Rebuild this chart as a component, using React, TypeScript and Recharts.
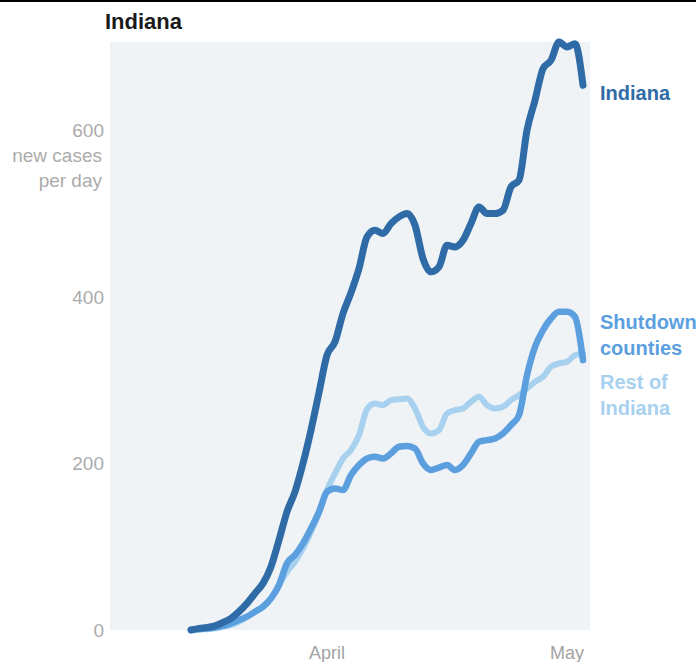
import { LineChart, Line, XAxis, YAxis, CartesianGrid } from "recharts";

// day offsets from April 1
const DAYS = [
  -17, -16, -15, -14, -13, -12, -11, -10, -9, -8,
  -7, -6, -5, -4, -3, -2, -1, 0, 1, 2,
  3, 4, 5, 6, 7, 8, 9, 10, 11, 12,
  13, 14, 15, 16, 17, 18, 19, 20, 21, 22,
  23, 24, 25, 26, 27, 28, 29, 30, 31, 32,
];

const INDIANA = [
  0, 2, 3, 5, 9, 14, 22, 32, 44, 56,
  76, 108, 142, 166, 200, 240, 285, 330, 346, 380,
  405, 434, 472, 480, 476, 488, 496, 500, 486, 446,
  430, 436, 462, 460, 468, 488, 508, 500, 500, 504,
  532, 540, 600, 636, 674, 684, 706, 700, 704, 654,
];

const SHUTDOWN = [
  0, 1, 2, 3, 5, 8, 12, 16, 22, 28,
  38, 54, 80, 90, 104, 122, 142, 166, 170, 168,
  186, 198, 206, 208, 206, 212, 220, 221, 218, 200,
  192, 195, 198, 192, 198, 212, 226, 228, 230, 236,
  246, 258, 306, 340, 360, 374, 382, 382, 376, 324,
];

const REST = [
  0, 1, 1, 2, 4, 6, 10, 16, 22, 28,
  38, 54, 70, 82, 98, 118, 140, 168, 188, 206,
  216, 234, 265, 272, 270, 276, 277, 278, 266, 244,
  236, 240, 260, 264, 266, 274, 280, 270, 266, 268,
  276, 282, 290, 298, 304, 316, 320, 322, 330, 332,
];

const Y_TICKS = [0, 200, 400, 600];
const X_TICKS = [0, 30];
const X_TICK_LABELS = ["April", "May"];

const DARK = "#2f6ba6";
const MID = "#5c9fdf";
const LIGHT = "#a8d1ef";
const FONT = '"Liberation Sans", Arial, sans-serif';

const data = DAYS.map((d, i) => ({
  day: d,
  indiana: INDIANA[i],
  shutdown: SHUTDOWN[i],
  rest: REST[i],
}));

function YTick({ x, y, payload }: any) {
  const extra = payload.value === 600;
  return (
    <text
      x={x}
      y={y}
      textAnchor="end"
      fill="#ababab"
      fontSize={19}
      fontFamily={FONT}
    >
      <tspan x={x} dy="0.35em">
        {payload.value}
      </tspan>
      {extra && (
        <tspan x={x - 2} dy={25}>
          new cases
        </tspan>
      )}
      {extra && (
        <tspan x={x - 2} dy={25}>
          per day
        </tspan>
      )}
    </text>
  );
}

const label = (color: string): React.CSSProperties => ({
  position: "absolute",
  left: 600,
  color,
  fontFamily: FONT,
  fontWeight: "bold",
  fontSize: 20,
  lineHeight: "26px",
  whiteSpace: "nowrap",
});

export default function App() {
  return (
    <div
      style={{
        position: "absolute",
        left: 0,
        top: 0,
        width: 696,
        height: 662,
        background: "#fff",
        overflow: "hidden",
      }}
    >
      <div
        style={{
          position: "absolute",
          left: 0,
          top: 0,
          width: 696,
          height: 2,
          background: "#000",
        }}
      />
      <div
        style={{
          position: "absolute",
          left: 105,
          top: 9,
          fontFamily: FONT,
          fontWeight: "bold",
          fontSize: 22,
          lineHeight: "26px",
          color: "#1a1a1a",
        }}
      >
        Indiana
      </div>
      <LineChart
        width={696}
        height={662}
        data={data}
        margin={{ top: 42, right: 106, left: 50, bottom: 2 }}
      >
        <CartesianGrid
          horizontal={false}
          vertical={false}
          fill="#eff3f6"
          stroke="none"
        />
        <XAxis
          dataKey="day"
          type="number"
          domain={[-27.125, 32.875]}
          ticks={X_TICKS}
          tickFormatter={(v) => X_TICK_LABELS[X_TICKS.indexOf(v)]}
          axisLine={false}
          tickLine={false}
          tickSize={0}
          tickMargin={16}
          height={30}
          tick={{ fill: "#a3a3a3", fontSize: 18, fontFamily: FONT }}
        />
        <YAxis
          width={60}
          domain={[0, 706]}
          ticks={Y_TICKS}
          axisLine={false}
          tickLine={false}
          tickSize={0}
          tickMargin={6}
          tick={<YTick />}
        />
        <Line
          type="monotone"
          dataKey="rest"
          stroke={LIGHT}
          strokeWidth={6}
          dot={false}
          strokeLinecap="round"
          strokeLinejoin="round"
          isAnimationActive={false}
        />
        <Line
          type="monotone"
          dataKey="shutdown"
          stroke={MID}
          strokeWidth={6.5}
          dot={false}
          strokeLinecap="round"
          strokeLinejoin="round"
          isAnimationActive={false}
        />
        <Line
          type="monotone"
          dataKey="indiana"
          stroke={DARK}
          strokeWidth={7}
          dot={false}
          strokeLinecap="round"
          strokeLinejoin="round"
          isAnimationActive={false}
        />
      </LineChart>
      <div style={{ ...label(DARK), top: 80 }}>Indiana</div>
      <div style={{ ...label(MID), top: 309 }}>
        Shutdown
        <br />
        counties
      </div>
      <div style={{ ...label(LIGHT), top: 369 }}>
        Rest of
        <br />
        Indiana
      </div>
    </div>
  );
}
